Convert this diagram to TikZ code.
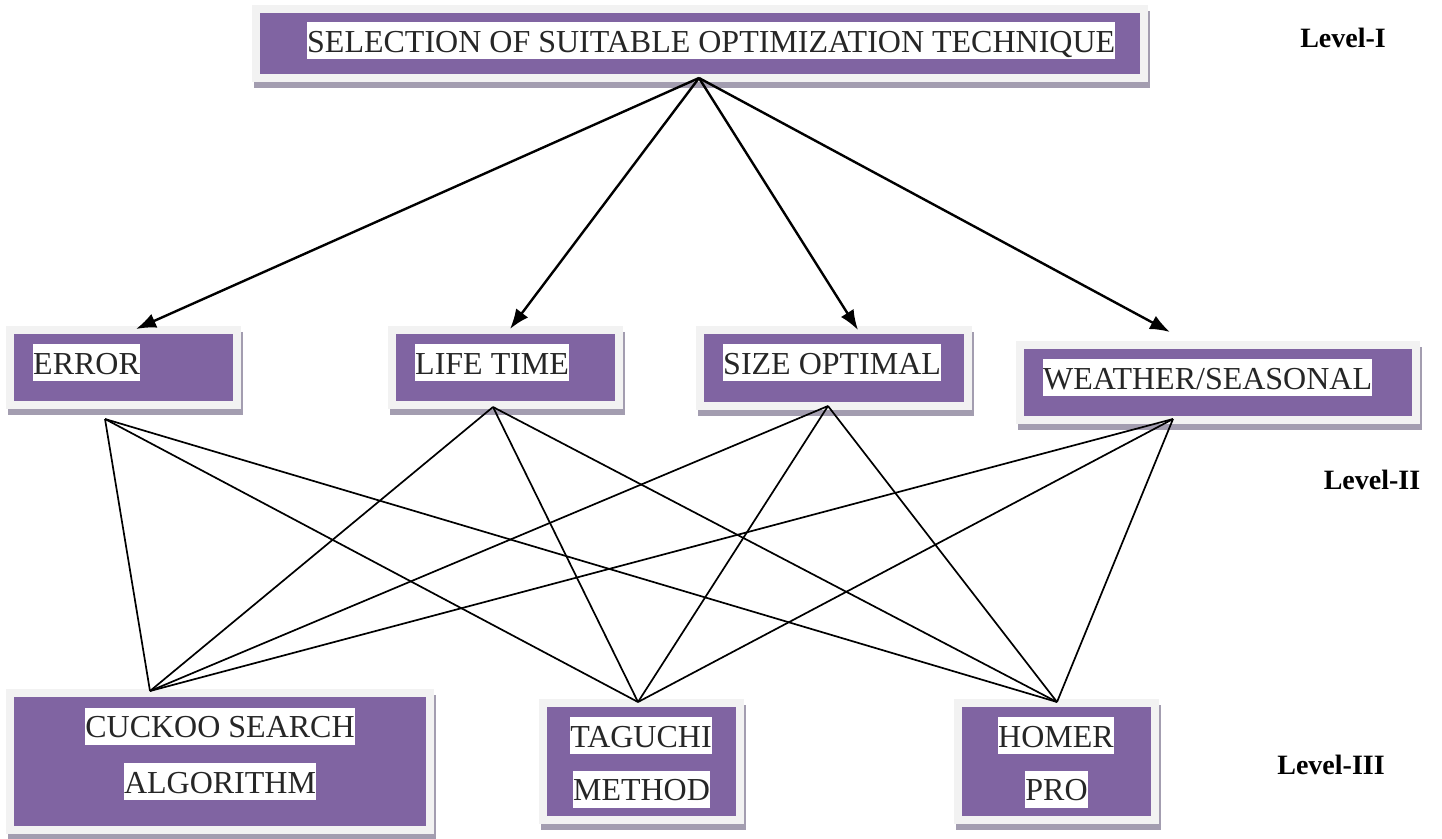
\documentclass[tikz,border=0pt]{standalone}
\usepackage{fontspec}
\setmainfont{Liberation Serif}
\usetikzlibrary{arrows.meta}
\definecolor{boxpurple}{RGB}{128,100,162}
\definecolor{framegray}{RGB}{242,242,242}
\definecolor{shadowgray}{RGB}{163,157,176}
\definecolor{txtgray}{RGB}{38,38,38}
\tikzset{
  pbox/.style={rectangle, fill=boxpurple, draw=framegray, line width=8pt, inner sep=0pt,
    preaction={draw=shadowgray, fill=shadowgray, line width=8pt, transform canvas={xshift=2pt,yshift=-6pt}}},
  btext/.style={fill=white, text=txtgray, inner sep=0pt, text height=30pt, text depth=7pt,
    font=\fontsize{32}{38}\selectfont},
  lvl/.style={font=\fontsize{28}{33}\selectfont\bfseries, text=black, inner sep=0pt},
  arr/.style={line width=2.4pt, -{Latex[length=20pt,width=15pt]}},
  link/.style={line width=1.7pt},
}
\begin{document}
\begin{tikzpicture}[x=1pt,y=-1pt]
\useasboundingbox (0,0) rectangle (1442,838);
% boxes
\node[pbox, minimum width=888pt, minimum height=69pt] (top) at (700,43.5) {};
\node[pbox, minimum width=227pt, minimum height=75pt] (err) at (123.5,367.5) {};
\node[pbox, minimum width=227pt, minimum height=75pt] (life) at (505.5,367.5) {};
\node[pbox, minimum width=268pt, minimum height=76pt] (size) at (834,368) {};
\node[pbox, minimum width=396pt, minimum height=75pt] (weather) at (1218,382.5) {};
\node[pbox, minimum width=420pt, minimum height=137pt] (cuckoo) at (220,761.5) {};
\node[pbox, minimum width=197pt, minimum height=117pt] (taguchi) at (641.5,761.5) {};
\node[pbox, minimum width=197pt, minimum height=117pt] (homer) at (1056.5,761.5) {};
% texts
\node[btext, anchor=west] (toptxt) at (307,40.5) {SELECTION OF SUITABLE OPTIMIZATION TECHNIQUE};
\node[btext, anchor=west] (errtxt) at (33,362.5) {ERROR};
\node[btext, anchor=west] (lifetxt) at (415,362.5) {LIFE TIME};
\node[btext, anchor=west] (sizetxt) at (723,362.5) {SIZE OPTIMAL};
\node[btext, anchor=west] (weathertxt) at (1043,377.5) {WEATHER/SEASONAL};
\node[btext] (cs1) at (220,726) {CUCKOO SEARCH};
\node[btext] (cs2) at (220,781.5) {ALGORITHM};
\node[btext] (tg1) at (641,735.5) {TAGUCHI};
\node[btext] (tg2) at (641.5,789) {METHOD};
\node[btext] (hm1) at (1056,735.5) {HOMER};
\node[btext] (hm2) at (1056.5,789) {PRO};
% level labels
\node[lvl] (l1) at (1343,38) {Level-I};
\node[lvl] (l2) at (1372,480) {Level-II};
\node[lvl] (l3) at (1331,765) {Level-III};
% connection points
\coordinate (topOut) at (699,78);
\coordinate (errIn) at (136,329);
\coordinate (lifeIn) at (510,329);
\coordinate (sizeIn) at (858,330);
\coordinate (weatherIn) at (1170,332);
\coordinate (errOut) at (105,419);
\coordinate (lifeOut) at (493,407);
\coordinate (sizeOut) at (828,406);
\coordinate (weatherOut) at (1173,419);
\coordinate (cuckooIn) at (150,691);
\coordinate (taguchiIn) at (638,702);
\coordinate (homerIn) at (1057,702);
% arrows
\draw[arr] (topOut) -- (errIn);
\draw[arr] (topOut) -- (lifeIn);
\draw[arr] (topOut) -- (sizeIn);
\draw[arr] (topOut) -- (weatherIn);
% links
\foreach \a in {errOut,lifeOut,sizeOut,weatherOut}{
  \foreach \b in {cuckooIn,taguchiIn,homerIn}{
    \draw[link] (\a) -- (\b);
  }
}
\end{tikzpicture}
\end{document}
